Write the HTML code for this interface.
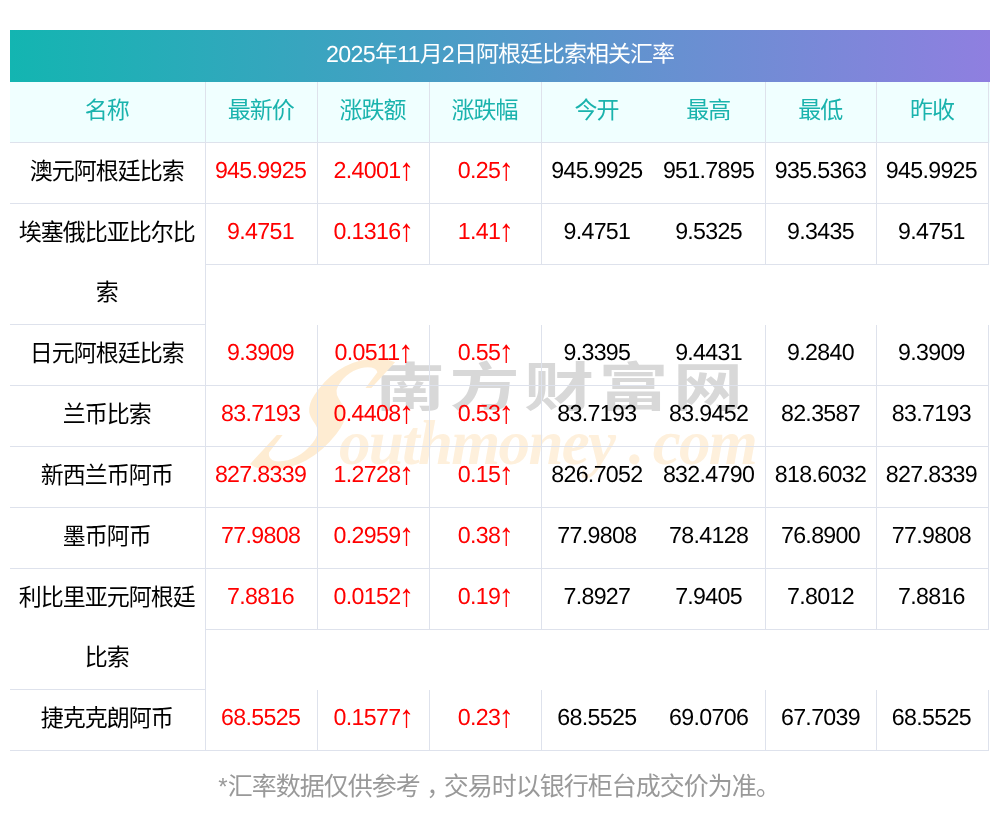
<!DOCTYPE html>
<html lang="zh-CN">
<head>
<meta charset="utf-8">
<title>2025年11月2日阿根廷比索相关汇率</title>
<style>
*{box-sizing:border-box;margin:0;padding:0}
html,body{width:1000px;height:817px;background:#fff;overflow:hidden}
body{font-family:"Liberation Sans","Noto Sans CJK SC",sans-serif;font-size:22px;color:#000;position:relative}
.wrap{position:absolute;left:10px;top:30px;width:980px}
.title{height:52px;line-height:52px;text-align:center;color:#fff;font-size:22px;background:linear-gradient(90deg,#13b5b1 0%,#8f7fe0 100%)}
.title>span{position:relative;top:-2px;left:0px;text-rendering:geometricPrecision;font-size:23px;letter-spacing:-1px}
.title .n{font-size:23.2px;letter-spacing:-0.67px;line-height:0}
.row{display:flex;align-items:flex-start;width:980px}
.row.head{background:#f0ffff;color:#1ab3ad}
.row>div{height:61px;line-height:60px;text-align:center;border-right:1px solid #dee2ec;border-bottom:1px solid #dee2ec;white-space:nowrap;flex:none}
.row>div>span{position:relative;top:-2px;display:inline-block}
.row>div>span.z{font-size:23px;letter-spacing:-1px;left:-0.8px}
.c0{width:196px}
.c1,.c2,.c3,.c4,.c5,.c6,.c7{width:111.916px}
.row>div.c4{border-right:0;padding-right:1px}
.row>div>span.n{font-size:23.2px;letter-spacing:-0.67px;top:-3px;text-rendering:geometricPrecision}
.row>div.c1>.n{left:-0.9px}
.row>div.c5>.n,.row>div.c6>.n{left:-0.5px}
.row>div.c4>.n{left:-0.3px}
.row>div.c2>.n,.row>div.c3>.n{left:0.5px}
.row>div.c7>.n{left:-1.5px}
.a{font-size:31px;line-height:0;letter-spacing:0;position:relative;top:2px;margin-left:-1.7px;margin-right:-0.1px}
.cm{position:relative;left:6.5px}
.foot>span{position:relative;left:-1px}
.row>div.c0.two{height:121px;white-space:normal}
.r{color:#ff0000}
.foot{position:absolute;left:0;top:756px;width:1000px;height:60px;line-height:60px;text-align:center;font-size:25px;letter-spacing:-1px;color:#999}
.foot .st{font-size:24px;letter-spacing:0}
.wm{position:absolute;left:0;top:0;width:1000px;height:817px;pointer-events:none}
.wc{position:absolute;left:375px;top:326.5px;white-space:nowrap;font:700 70px/100px "Noto Sans CJK SC",sans-serif;letter-spacing:4.5px;color:#d8d8d8;transform:scaleY(0.74);transform-origin:0 74.5px}
.wl{position:absolute;left:339px;top:403px;white-space:nowrap;font:italic bold 63px/80px "Liberation Serif",serif;letter-spacing:-1.7px;color:#fef0dc}
.ws{display:inline-block;width:0;color:#feecd2;font-size:165px;line-height:0;letter-spacing:0;position:relative;top:4px;margin-left:-95px;margin-right:95px;transform:skewX(-38deg) scaleX(0.8);transform-origin:0 55.7px}
.wy{margin-right:14.5px}
.wd{margin-right:10px}
</style>
</head>
<body>
<div class="wm"><div class="wc">南方财富网</div><div class="wl"><span class="ws">S</span>outhmone<span class="wy">y</span><span class="wd">.</span>com</div></div>
<div class="wrap">
<div class="title"><span><span class="n">2025</span>年<span class="n">11</span>月<span class="n">2</span>日阿根廷比索相关汇率</span></div>
<div class="row head"><div class="c0"><span class="z">名称</span></div><div class="c1"><span class="z">最新价</span></div><div class="c2"><span class="z">涨跌额</span></div><div class="c3"><span class="z">涨跌幅</span></div><div class="c4"><span class="z">今开</span></div><div class="c5"><span class="z">最高</span></div><div class="c6"><span class="z">最低</span></div><div class="c7"><span class="z">昨收</span></div></div>
<div class="row"><div class="c0"><span class="z">澳元阿根廷比索</span></div><div class="c1 r"><span class="n">945.9925</span></div><div class="c2 r"><span class="n">2.4001<span class="a">↑</span></span></div><div class="c3 r"><span class="n">0.25<span class="a">↑</span></span></div><div class="c4"><span class="n">945.9925</span></div><div class="c5"><span class="n">951.7895</span></div><div class="c6"><span class="n">935.5363</span></div><div class="c7"><span class="n">945.9925</span></div></div>
<div class="row"><div class="c0 two"><span class="z">埃塞俄比亚比尔比索</span></div><div class="c1 r"><span class="n">9.4751</span></div><div class="c2 r"><span class="n">0.1316<span class="a">↑</span></span></div><div class="c3 r"><span class="n">1.41<span class="a">↑</span></span></div><div class="c4"><span class="n">9.4751</span></div><div class="c5"><span class="n">9.5325</span></div><div class="c6"><span class="n">9.3435</span></div><div class="c7"><span class="n">9.4751</span></div></div>
<div class="row"><div class="c0"><span class="z">日元阿根廷比索</span></div><div class="c1 r"><span class="n">9.3909</span></div><div class="c2 r"><span class="n">0.0511<span class="a">↑</span></span></div><div class="c3 r"><span class="n">0.55<span class="a">↑</span></span></div><div class="c4"><span class="n">9.3395</span></div><div class="c5"><span class="n">9.4431</span></div><div class="c6"><span class="n">9.2840</span></div><div class="c7"><span class="n">9.3909</span></div></div>
<div class="row"><div class="c0"><span class="z">兰币比索</span></div><div class="c1 r"><span class="n">83.7193</span></div><div class="c2 r"><span class="n">0.4408<span class="a">↑</span></span></div><div class="c3 r"><span class="n">0.53<span class="a">↑</span></span></div><div class="c4"><span class="n">83.7193</span></div><div class="c5"><span class="n">83.9452</span></div><div class="c6"><span class="n">82.3587</span></div><div class="c7"><span class="n">83.7193</span></div></div>
<div class="row"><div class="c0"><span class="z">新西兰币阿币</span></div><div class="c1 r"><span class="n">827.8339</span></div><div class="c2 r"><span class="n">1.2728<span class="a">↑</span></span></div><div class="c3 r"><span class="n">0.15<span class="a">↑</span></span></div><div class="c4"><span class="n">826.7052</span></div><div class="c5"><span class="n">832.4790</span></div><div class="c6"><span class="n">818.6032</span></div><div class="c7"><span class="n">827.8339</span></div></div>
<div class="row"><div class="c0"><span class="z">墨币阿币</span></div><div class="c1 r"><span class="n">77.9808</span></div><div class="c2 r"><span class="n">0.2959<span class="a">↑</span></span></div><div class="c3 r"><span class="n">0.38<span class="a">↑</span></span></div><div class="c4"><span class="n">77.9808</span></div><div class="c5"><span class="n">78.4128</span></div><div class="c6"><span class="n">76.8900</span></div><div class="c7"><span class="n">77.9808</span></div></div>
<div class="row"><div class="c0 two"><span class="z">利比里亚元阿根廷比索</span></div><div class="c1 r"><span class="n">7.8816</span></div><div class="c2 r"><span class="n">0.0152<span class="a">↑</span></span></div><div class="c3 r"><span class="n">0.19<span class="a">↑</span></span></div><div class="c4"><span class="n">7.8927</span></div><div class="c5"><span class="n">7.9405</span></div><div class="c6"><span class="n">7.8012</span></div><div class="c7"><span class="n">7.8816</span></div></div>
<div class="row"><div class="c0"><span class="z">捷克克朗阿币</span></div><div class="c1 r"><span class="n">68.5525</span></div><div class="c2 r"><span class="n">0.1577<span class="a">↑</span></span></div><div class="c3 r"><span class="n">0.23<span class="a">↑</span></span></div><div class="c4"><span class="n">68.5525</span></div><div class="c5"><span class="n">69.0706</span></div><div class="c6"><span class="n">67.7039</span></div><div class="c7"><span class="n">68.5525</span></div></div>
</div>
<div class="foot"><span><span class="st">*</span>汇率数据仅供参考<span class="cm">，</span>交易时以银行柜台成交价为准。</span></div>
</body>
</html>
